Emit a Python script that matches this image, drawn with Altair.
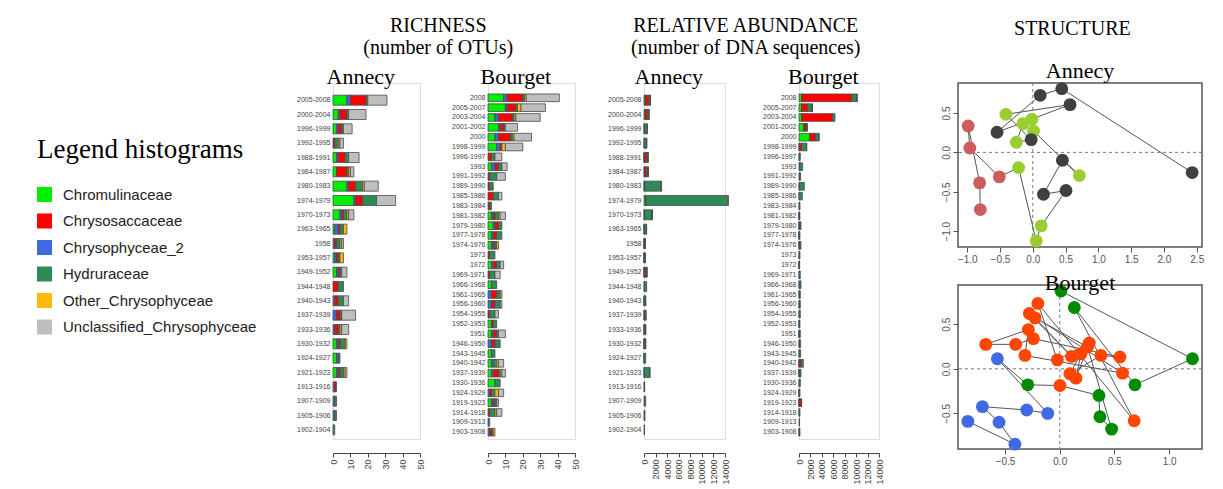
import altair as alt
import pandas as pd

# ---------------- data ----------------
FAMILIES = ["Chromulinaceae", "Chrysosaccaceae", "Chrysophyceae_2",
            "Hydruraceae", "Other_Chrysophyceae", "Unclassified_Chrysophyceae"]
FAMILY_COLORS = ["#00EE00", "#FF0000", "#4169E1", "#2E8B57", "#FFB90F", "#BEBEBE"]
STACK_ORDER = ["Chromulinaceae", "Chrysophyceae_2", "Chrysosaccaceae",
               "Hydruraceae", "Other_Chrysophyceae", "Unclassified_Chrysophyceae"]

ANNECY_PERIODS = ["2005-2008", "2000-2004", "1996-1999", "1992-1995", "1988-1991", "1984-1987",
                  "1980-1983", "1974-1979", "1970-1973", "1963-1965", "1958", "1953-1957",
                  "1949-1952", "1944-1948", "1940-1943", "1937-1939", "1933-1936", "1930-1932",
                  "1924-1927", "1921-1923", "1913-1916", "1907-1909", "1905-1906", "1902-1904"]
BOURGET_PERIODS = ["2008", "2005-2007", "2003-2004", "2001-2002", "2000", "1998-1999", "1996-1997",
                   "1993", "1991-1992", "1989-1990", "1985-1986", "1983-1984", "1981-1982",
                   "1979-1980", "1977-1978", "1974-1976", "1973", "1972", "1969-1971", "1966-1968",
                   "1961-1965", "1956-1960", "1954-1955", "1952-1953", "1951", "1946-1950",
                   "1943-1945", "1940-1942", "1937-1939", "1930-1936", "1924-1929", "1919-1923",
                   "1914-1918", "1909-1913", "1903-1908"]

# Richness Annecy (number of OTUs)
RA_CHROMU = [8, 3, 2, 0, 2, 2, 8, 12, 4, 1, 0, 1, 2, 0, 0, 0, 0, 2, 2, 2, 0, 0, 0, 0]
RA_CHRYS2 = [2, 1, 1, 0, 1, 0, 1, 1, 1, 2, 1, 1, 1, 0, 1, 2, 1, 1, 1, 1, 1, 1, 1, 0]
RA_CHRYSO = [9, 4, 2, 1, 4, 6, 4, 4, 1, 1, 1, 1, 1, 3, 2, 2, 2, 1, 0, 1, 1, 0, 0, 0]
RA_HYDRU = [1, 1, 1, 2, 2, 1, 4, 8, 2, 2, 2, 1, 1, 3, 3, 1, 1, 3, 1, 2, 0, 1, 1, 1]
RA_OTHER = [0, 0, 0, 1, 0, 1, 1, 0, 1, 2, 1, 2, 0, 0, 0, 0, 1, 1, 0, 1, 0, 0, 0, 0]
RA_UNCL = [11, 10, 5, 2, 6, 2, 8, 11, 3, 0, 1, 0, 3, 0, 3, 8, 4, 0, 0, 1, 0, 0, 0, 0]

# Richness Bourget
RB_CHROMU = [9, 10, 4, 6, 4, 5, 0, 2, 0, 0, 0, 0, 2, 3, 2, 2, 0, 2, 0, 2, 0, 0, 0, 2, 2, 0,
             2, 2, 2, 4, 0, 2, 0, 0, 0]
RB_CHRYS2 = [2, 1, 2, 1, 2, 2, 0, 2, 0, 0, 0, 0, 1, 1, 1, 1, 0, 1, 0, 0, 2, 2, 0, 0, 1, 2,
             0, 1, 1, 0, 1, 1, 0, 1, 1]
RB_CHRYSO = [9, 5, 8, 2, 7, 1, 2, 2, 1, 1, 3, 1, 1, 2, 2, 1, 1, 2, 1, 0, 3, 2, 1, 1, 2, 2,
             0, 0, 3, 0, 1, 1, 1, 0, 1]
RB_HYDRU = [1, 1, 1, 1, 1, 0, 2, 2, 4, 2, 3, 1, 2, 2, 3, 1, 3, 2, 3, 3, 2, 3, 3, 2, 1, 3,
            2, 2, 1, 3, 2, 1, 3, 0, 1]
RB_OTHER = [1, 2, 1, 0, 1, 2, 0, 0, 0, 0, 0, 0, 1, 0, 0, 1, 0, 0, 0, 0, 1, 0, 0, 0, 0, 0,
            0, 1, 1, 0, 2, 0, 1, 0, 1]
RB_UNCL = [19, 14, 14, 7, 10, 10, 4, 3, 5, 0, 2, 0, 3, 0, 0, 0, 0, 2, 3, 0, 0, 1, 2, 0, 4, 0,
           0, 3, 2, 0, 3, 1, 3, 0, 0]

# Relative abundance Annecy (number of DNA sequences)
AA_CHROMU = [200, 200, 50, 0, 30, 50, 50, 250, 50, 10, 0, 20, 20, 0, 0, 0, 0, 20, 20, 50, 0, 0, 0, 0]
AA_CHRYS2 = [20, 10, 10, 0, 10, 0, 20, 20, 10, 50, 10, 10, 10, 0, 10, 20, 10, 10, 10, 10, 60, 100, 80, 0]
AA_CHRYSO = [600, 450, 50, 20, 400, 350, 50, 100, 50, 30, 20, 20, 300, 60, 40, 60, 40, 20, 0, 20, 60, 0, 0, 0]
AA_HYDRU = [250, 200, 450, 400, 250, 300, 2800, 14100, 1280, 340, 180, 160, 190, 400, 230, 250, 220,
            230, 260, 900, 0, 190, 90, 100]
AA_OTHER = [10, 0, 0, 10, 0, 10, 10, 0, 10, 30, 10, 20, 0, 0, 0, 0, 10, 10, 0, 10, 0, 0, 0, 0]
AA_UNCL = [50, 50, 50, 90, 60, 40, 120, 130, 40, 0, 10, 0, 10, 0, 10, 20, 10, 0, 0, 10, 0, 0, 0, 0]

# Relative abundance Bourget
AB_CHROMU = [470, 450, 470, 870, 1900, 30, 0, 100, 0, 0, 0, 0, 20, 30, 20, 30, 0, 20, 0, 30, 0, 0,
             0, 30, 20, 0, 30, 20, 20, 40, 0, 10, 0, 0, 0]
AB_CHRYS2 = [30, 20, 20, 10, 20, 0, 0, 10, 0, 0, 0, 0, 10, 10, 10, 10, 0, 10, 0, 0, 30, 30, 0, 0,
             10, 30, 0, 10, 10, 0, 10, 10, 0, 100, 30]
AB_CHRYSO = [8750, 1050, 5360, 350, 1000, 450, 50, 30, 100, 30, 30, 50, 20, 20, 20, 20, 20, 20, 30,
             0, 50, 50, 30, 20, 40, 60, 0, 350, 40, 0, 20, 400, 30, 0, 40]
AB_HYDRU = [850, 780, 450, 200, 560, 850, 180, 500, 190, 900, 550, 120, 60, 290, 120, 290, 150, 70,
            200, 320, 150, 150, 200, 120, 160, 200, 260, 380, 280, 190, 140, 50, 145, 0, 100]
AB_OTHER = [20, 10, 0, 0, 0, 0, 0, 0, 0, 0, 0, 0, 0, 0, 0, 0, 0, 0, 0, 0, 0, 0, 0, 0, 0, 0, 0, 0,
            0, 0, 0, 0, 0, 0, 0]
AB_UNCL = [80, 20, 0, 30, 20, 10, 0, 0, 0, 0, 0, 0, 10, 0, 0, 0, 0, 0, 0, 0, 0, 0, 0, 0, 0, 0, 0, 0,
           0, 0, 0, 0, 0, 0, 0]

# Structure (ordination), points listed in trajectory order
SA_X = [-0.80, -0.81, -0.985, -0.96, -0.51, -0.216, 0.052, 0.128, 0.507, 0.163, 0.452, 0.71,
        0.012, -0.014, -0.15, -0.25, -0.024, -0.41, 0.568, -0.545, 0.113, 0.442, 2.43]
SA_Y = [-0.725, -0.387, 0.335, 0.056, -0.311, -0.193, -1.122, -0.932, -0.484, -0.531, -0.10, -0.294,
        0.272, 0.42, 0.365, 0.128, 0.162, 0.483, 0.606, 0.255, 0.724, 0.808, -0.256]
SA_GROUP = ["a", "a", "a", "a", "a", "b", "b", "b", "c", "c", "c", "b",
            "b", "b", "b", "b", "c", "b", "c", "c", "c", "c", "c"]
SA_COLORS = {"a": "#CD5C5C", "b": "#9ACD32", "c": "#404040"}

SB_X = [-0.84, -0.41, -0.555, -0.707, -0.302, -0.11, -0.57, -0.293, 0.002, 0.358, 0.367, 0.474,
        0.254, -0.226, 0.108, -0.278, 0.574, -0.318, -0.287, -0.676, -0.403, -0.241, 0.55, 0.376,
        0.093, 0.194, 0.148, 0.27, -0.022, -0.20, 0.68, 0.133, 0.687, 1.213, 0.011]
SB_Y = [-0.59, -0.846, -0.60, -0.425, -0.462, -0.50, 0.113, -0.18, -0.188, -0.30, -0.538, -0.677,
        0.244, 0.571, 0.139, 0.62, -0.049, 0.15, 0.44, 0.274, 0.274, 0.338, 0.132, 0.15,
        -0.056, 0.169, -0.105, 0.289, 0.10, 0.733, -0.583, 0.688, -0.18, 0.113, 0.872]
SB_GROUP = ["a", "a", "a", "a", "a", "a", "a", "b", "c", "b", "b", "b",
            "c", "c", "c", "c", "c", "c", "c", "c", "c", "c", "c", "c",
            "c", "c", "c", "c", "c", "c", "c", "b", "b", "b", "b"]
SB_COLORS = {"a": "#4169E1", "b": "#008B00", "c": "#FF4500"}

SERIF = "Liberation Serif"
SANS = "Liberation Sans"


def long_df(periods, series):
    rows = []
    for fam, vals in zip(STACK_ORDER, series):
        for p, v in zip(periods, vals):
            if v > 0:
                rows.append({"period": p, "family": fam, "value": v,
                             "k": STACK_ORDER.index(fam)})
    return pd.DataFrame(rows)


color_enc = alt.Color(
    "family:N",
    scale=alt.Scale(domain=FAMILIES, range=FAMILY_COLORS),
    legend=alt.Legend(
        title="Legend histograms", orient="none", legendX=-296, legendY=54,
        titleFont=SERIF, titleFontSize=27, titleFontWeight="normal", titleColor="black",
        titlePadding=23, titleLimit=500, labelFont=SANS, labelFontSize=15, labelColor="#222",
        symbolType="square", symbolSize=225, symbolStrokeWidth=0, symbolOpacity=1,
        rowPadding=10.5, labelOffset=11, labelLimit=400,
    ),
)


def bar_chart(periods, series, title, xmax, xticks, pad_in, pad_out, width):
    df = long_df(periods, series)
    return alt.Chart(df).mark_bar(stroke="#4a4a4a", strokeWidth=0.8).encode(
        y=alt.Y("period:N", sort=periods,
                scale=alt.Scale(paddingInner=pad_in, paddingOuter=pad_out, range=[10, 354]),
                axis=alt.Axis(title=None, domain=False, ticks=False, labelFontSize=7,
                              labelFont=SANS, labelColor="#444", labelPadding=3)),
        x=alt.X("value:Q", stack="zero",
                scale=alt.Scale(domain=[0, xmax], nice=False),
                axis=alt.Axis(title=None, values=xticks, format="d", labelAngle=270,
                              labelFontSize=9, labelFont=SANS, labelColor="#444",
                              tickColor="#444", domainColor="#444", tickSize=4,
                              labelPadding=2, grid=False, offset=14, labelFlush=False)),
        color=color_enc,
        order=alt.Order("k:Q"),
    ).properties(
        width=width, height=356,
        title=alt.TitleParams(title, font=SERIF, fontSize=22, fontWeight="normal",
                              color="black", frame="bounds", anchor="middle", offset=-6),
    )


def scatter(xs, ys, groups, colors, title, xdom, ydom, xticks, yticks, toff):
    df = pd.DataFrame({"x": xs, "y": ys, "g": groups, "k": list(range(len(xs)))})
    zero = pd.DataFrame({"z": [0]})
    xax = alt.Axis(title=None, values=xticks, format=".1f", labelFontSize=10, labelFont=SANS,
                   labelColor="#555", tickColor="#555", tickSize=5, domain=False, grid=False,
                   labelFlush=False)
    yax = alt.Axis(title=None, values=yticks, format=".1f", labelFontSize=10, labelFont=SANS,
                   labelColor="#555", tickColor="#555", tickSize=5, domain=False, grid=False,
                   labelAngle=270, labelFlush=False)
    xs_ = alt.Scale(domain=xdom, nice=False, zero=False)
    ys_ = alt.Scale(domain=ydom, nice=False, zero=False)
    vrule = alt.Chart(zero).mark_rule(color="#777", strokeDash=[3, 3], strokeWidth=1).encode(
        x=alt.X("z:Q", scale=xs_, axis=xax))
    hrule = alt.Chart(zero).mark_rule(color="#777", strokeDash=[3, 3], strokeWidth=1).encode(
        y=alt.Y("z:Q", scale=ys_, axis=yax))
    base = alt.Chart(df)
    line = base.mark_line(color="#555", strokeWidth=1).encode(
        x=alt.X("x:Q", scale=xs_, axis=xax), y=alt.Y("y:Q", scale=ys_, axis=yax),
        order="k:Q")
    pts = []
    for g, c in colors.items():
        pts.append(base.transform_filter(alt.datum.g == g).mark_circle(
            size=165, opacity=1, color=c).encode(
            x=alt.X("x:Q", scale=xs_, axis=xax), y=alt.Y("y:Q", scale=ys_, axis=yax)))
    return alt.layer(vrule, hrule, line, *pts).properties(
        width=244, height=164,
        view=alt.ViewBackground(stroke="#555", strokeWidth=1.5),
        title=alt.TitleParams(title, font=SERIF, fontSize=22, fontWeight="normal",
                              color="black", anchor="middle", offset=toff),
    )


ra = bar_chart(ANNECY_PERIODS, [RA_CHROMU, RA_CHRYS2, RA_CHRYSO, RA_HYDRU, RA_OTHER, RA_UNCL],
               "Annecy", 50, [0, 10, 20, 30, 40, 50], 0.3, 0.15, 87)
rb = bar_chart(BOURGET_PERIODS, [RB_CHROMU, RB_CHRYS2, RB_CHRYSO, RB_HYDRU, RB_OTHER, RB_UNCL],
               "Bourget", 50, [0, 10, 20, 30, 40, 50], 0.22, 0.1, 87)
aa = bar_chart(ANNECY_PERIODS, [AA_CHROMU, AA_CHRYS2, AA_CHRYSO, AA_HYDRU, AA_OTHER, AA_UNCL],
               "Annecy", 14000, list(range(0, 14001, 2000)), 0.3, 0.15, 81)
ab = bar_chart(BOURGET_PERIODS, [AB_CHROMU, AB_CHRYS2, AB_CHRYSO, AB_HYDRU, AB_OTHER, AB_UNCL],
               "Bourget", 14000, list(range(0, 14001, 2000)), 0.22, 0.1, 80)

sa = scatter(SA_X, SA_Y, SA_GROUP, SA_COLORS, "Annecy", [-1.14, 2.58], [-1.2, 0.88],
             [-1.0, -0.5, 0.0, 0.5, 1.0, 1.5, 2.0, 2.5], [-1.0, -0.5, 0.0, 0.5], -1)
sb = scatter(SB_X, SB_Y, SB_GROUP, SB_COLORS, "Bourget", [-0.93, 1.30], [-0.90, 0.94],
             [-0.5, 0.0, 0.5, 1.0], [-0.5, 0.0, 0.5], -10)

group_title = dict(font=SERIF, fontSize=20, fontWeight="normal", color="black",
                   anchor="middle", lineHeight=22)

richness = alt.hconcat(ra, rb, spacing=25).properties(
    title=alt.TitleParams(["RICHNESS", "(number of OTUs)"], offset=8, **group_title))
abundance = alt.hconcat(aa, ab, spacing=31).properties(
    title=alt.TitleParams(["RELATIVE ABUNDANCE", "(number of DNA sequences)"], offset=8,
                          **group_title))
structure = alt.vconcat(sa, sb, spacing=5).properties(
    title=alt.TitleParams("STRUCTURE", offset=21, **group_title))

chart = alt.hconcat(
    alt.hconcat(richness, abundance, spacing=26),
    structure,
    spacing=55,
).properties(
    padding={"left": 29, "top": 7, "right": 5, "bottom": 5},
).configure_view(strokeWidth=0).configure(background="white")

chart.save("out.html", embed_options={"renderer": "svg", "actions": False})
